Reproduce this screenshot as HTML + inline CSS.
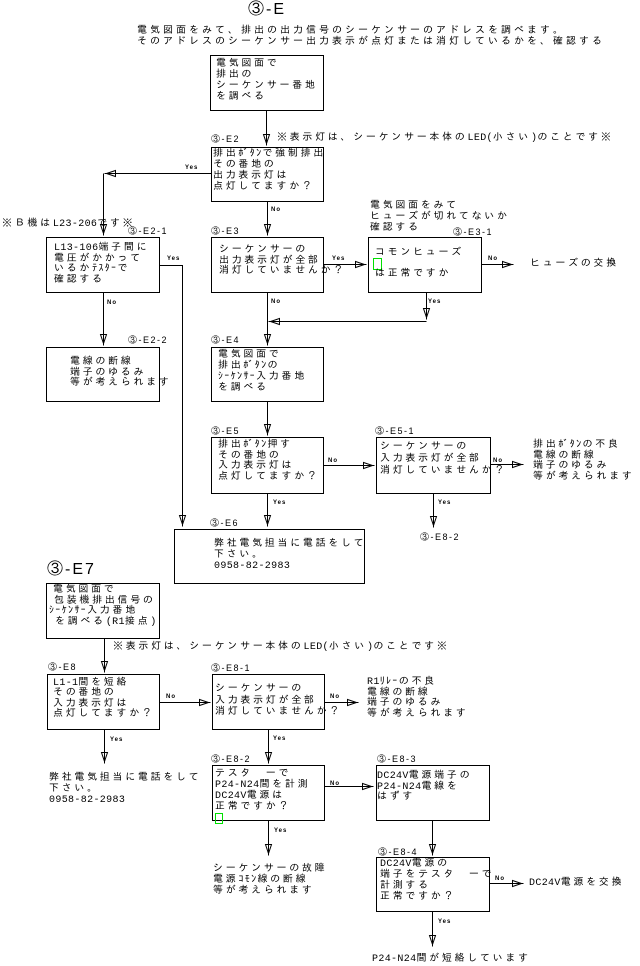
<!DOCTYPE html>
<html><head><meta charset="utf-8"><style>
html,body{margin:0;padding:0;background:#fff}
body{width:640px;height:966px;position:relative;overflow:hidden}
svg{position:absolute;left:0;top:0}
.t{position:absolute;font-family:"Liberation Mono","IPAGothic","Noto Sans CJK JP",monospace;font-size:10px;letter-spacing:2.7px;line-height:11px;white-space:pre;color:#000}
.t .a{letter-spacing:0.35px}
.t .k{letter-spacing:1.35px}
.l{position:absolute;font-family:"Liberation Sans","IPAGothic","Noto Sans CJK JP",sans-serif;font-size:9px;letter-spacing:1.5px;line-height:10px;white-space:pre;color:#000}
.y{position:absolute;font-family:"Liberation Sans",sans-serif;font-weight:bold;font-size:6px;letter-spacing:1px;line-height:7px;white-space:pre;color:#000}
.big{position:absolute;font-family:"Liberation Sans","IPAGothic","Noto Sans CJK JP",sans-serif;font-size:16px;letter-spacing:2px;line-height:17px;white-space:pre;color:#000}
</style></head><body>
<svg width="640" height="966" viewBox="0 0 640 966">
<g transform="translate(.5,.5)" stroke="#000" stroke-width="1" fill="none" shape-rendering="crispEdges">
<!-- boxes -->
<rect x="210" y="55" width="113" height="55"/>
<rect x="211" y="147" width="112" height="54"/>
<rect x="46" y="237" width="113" height="55"/>
<rect x="211" y="237" width="112" height="55"/>
<rect x="368" y="237" width="113" height="55"/>
<rect x="46" y="347" width="113" height="54"/>
<rect x="211" y="347" width="112" height="54"/>
<rect x="211" y="437" width="112" height="56"/>
<rect x="376" y="437" width="114" height="56"/>
<rect x="174" y="529" width="190" height="54"/>
<rect x="46" y="583" width="113" height="55"/>
<rect x="47" y="674" width="112" height="55"/>
<rect x="212" y="674" width="112" height="55"/>
<rect x="212" y="765" width="112" height="55"/>
<rect x="376" y="765" width="113" height="55"/>
<rect x="376" y="857" width="113" height="54"/>
<!-- connectors -->
<path d="M266 110V145"/>
<path d="M211 173H104M103 173V235"/>
<path d="M267 201V235"/>
<path d="M426 292V319"/>
<path d="M426 321H268"/>
<path d="M267 292V345"/>
<path d="M159 265H182V526"/>
<path d="M103 292V345"/>
<path d="M267 401V435"/>
<path d="M433 493V527"/>
<path d="M267 493V526"/>
<path d="M104 638V672"/>
<path d="M104 729V763"/>
<path d="M268 729V763"/>
<path d="M268 820V855"/>
<path d="M432 820V855"/>
<path d="M432 911V946"/>
<path d="M323 264H366"/>
<path d="M481 264H513"/>
<path d="M323 465H374"/>
<path d="M490 464H523"/>
<path d="M159 702H210"/>
<path d="M324 702H358"/>
<path d="M324 786H373"/>
<path d="M489 883H523"/>
<!-- down arrows -->
<g shape-rendering="auto">
<polygon points="263,134 269,134 266,143"/>
<polygon points="100,224 106,224 103,233"/>
<polygon points="264,224 270,224 267,233"/>
<polygon points="423,308 429,308 426,317"/>
<polygon points="264,334 270,334 267,343"/>
<polygon points="179,515 185,515 182,524"/>
<polygon points="100,334 106,334 103,343"/>
<polygon points="264,424 270,424 267,433"/>
<polygon points="430,516 436,516 433,525"/>
<polygon points="264,515 270,515 267,524"/>
<polygon points="101,661 107,661 104,670"/>
<polygon points="101,752 107,752 104,761"/>
<polygon points="265,752 271,752 268,761"/>
<polygon points="265,844 271,844 268,853"/>
<polygon points="429,844 435,844 432,853"/>
<polygon points="429,935 435,935 432,944"/>
<!-- right arrows -->
<polygon points="355,261 355,267 364,264"/>
<polygon points="502,261 502,267 511,264"/>
<polygon points="363,462 363,468 372,465"/>
<polygon points="512,461 512,467 521,464"/>
<polygon points="199,699 199,705 208,702"/>
<polygon points="347,699 347,705 356,702"/>
<polygon points="362,783 362,789 371,786"/>
<polygon points="512,880 512,886 521,883"/>
<!-- left arrows -->
<polygon points="115,170 115,176 106,173"/>
<polygon points="279,318 279,324 270,321"/>
</g>
<!-- green markers -->
<rect x="373" y="258" width="8" height="11" stroke="#00e000"/>
<rect x="215" y="813" width="7" height="10" stroke="#00e000"/>
</g>
</svg>

<div class="big" style="left:248px;top:1px">③-E</div>
<div class="t" style="left:137px;top:26px;letter-spacing:3px">電気図面をみて、排出の出力信号のシーケンサーのアドレスを調べます。
そのアドレスのシーケンサー出力表示が点灯または消灯しているかを、確認する</div>

<div class="t" style="left:216px;top:59px">電気図面で
排出の
シーケンサー番地
を調べる</div>

<div class="l" style="left:211px;top:134px">③-E2</div>
<div class="t" style="left:277px;top:133px">※表示灯は、シーケンサー本体の<span class="a">LED(</span>小さい<span class="a">)</span>のことです※</div>
<div class="t" style="left:213px;top:149px">排出<span class="k">ﾎﾞﾀﾝ</span>で強制排出
その番地の
出力表示灯は
点灯してますか？</div>
<div class="y" style="left:185px;top:165px">Yes</div>
<div class="y" style="left:271px;top:207px">No</div>

<div class="t" style="left:2px;top:219px">※Ｂ機は<span class="a">L23-206</span>です※</div>
<div class="l" style="left:128px;top:226px">③-E2-1</div>
<div class="t" style="left:54px;top:244px;line-height:10.7px"><span class="a">L13-106</span>端子間に
電圧がかかって
いるか<span class="k">ﾃｽﾀｰ</span>で
確認する</div>
<div class="y" style="left:167px;top:256px">Yes</div>
<div class="y" style="left:107px;top:300px">No</div>

<div class="l" style="left:211px;top:226px">③-E3</div>
<div class="t" style="left:219px;top:246px;line-height:10.5px">シーケンサーの
出力表示灯が全部
消灯していませんか？</div>
<div class="y" style="left:332px;top:256px">Yes</div>
<div class="y" style="left:271px;top:299px">No</div>

<div class="t" style="left:370px;top:201px">電気図面をみて
ヒューズが切れてないか
確認する</div>
<div class="l" style="left:453px;top:227px">③-E3-1</div>
<div class="t" style="left:375px;top:248px">コモンヒューズ</div>
<div class="t" style="left:375px;top:269px">は正常ですか</div>
<div class="y" style="left:488px;top:256px">No</div>
<div class="t" style="left:530px;top:259px">ヒューズの交換</div>
<div class="y" style="left:428px;top:299px">Yes</div>

<div class="l" style="left:128px;top:335px">③-E2-2</div>
<div class="t" style="left:70px;top:358px;line-height:10.5px">電線の断線
端子のゆるみ
等が考えられます</div>

<div class="l" style="left:211px;top:335px">③-E4</div>
<div class="t" style="left:218px;top:350px">電気図面で
排出<span class="k">ﾎﾞﾀﾝ</span>の
<span class="k">ｼｰｹﾝｻｰ</span>入力番地
を調べる</div>

<div class="l" style="left:211px;top:426px">③-E5</div>
<div class="t" style="left:218px;top:441px;line-height:10.7px">排出<span class="k">ﾎﾞﾀﾝ</span>押す
その番地の
入力表示灯は
点灯してますか？</div>
<div class="y" style="left:328px;top:458px">No</div>

<div class="l" style="left:375px;top:426px">③-E5-1</div>
<div class="t" style="left:380px;top:442px;line-height:12px">シーケンサーの
入力表示灯が全部
消灯していませんか？</div>
<div class="y" style="left:493px;top:458px">No</div>
<div class="t" style="left:533px;top:441px;line-height:10.7px">排出<span class="k">ﾎﾞﾀﾝ</span>の不良
電線の断線
端子のゆるみ
等が考えられます</div>
<div class="y" style="left:438px;top:500px">Yes</div>
<div class="y" style="left:273px;top:500px">Yes</div>
<div class="l" style="left:420px;top:532px">③-E8-2</div>

<div class="l" style="left:210px;top:518px">③-E6</div>
<div class="t" style="left:214px;top:539px">弊社電気担当に電話をして
下さい。
<span class="a">0958-82-2983</span></div>

<div class="big" style="left:47px;top:561px">③-E7</div>
<div class="t" style="left:53px;top:585px">電気図面で</div>
<div class="t" style="left:54px;top:596px">包装機排出信号の</div>
<div class="t" style="left:49px;top:606px"><span class="k">ｼｰｹﾝｻｰ</span>入力番地</div>
<div class="t" style="left:55px;top:617px">を調べる<span class="a">(R1</span>接点<span class="a">)</span></div>
<div class="t" style="left:113px;top:642px">※表示灯は、シーケンサー本体の<span class="a">LED(</span>小さい<span class="a">)</span>のことです※</div>

<div class="l" style="left:48px;top:662px">③-E8</div>
<div class="t" style="left:53px;top:679px;line-height:10.4px"><span class="a">L1-1</span>間を短絡
その番地の
入力表示灯は
点灯してますか？</div>
<div class="y" style="left:166px;top:694px">No</div>
<div class="y" style="left:110px;top:737px">Yes</div>
<div class="t" style="left:49px;top:773px">弊社電気担当に電話をして
下さい。
<span class="a">0958-82-2983</span></div>

<div class="l" style="left:211px;top:663px">③-E8-1</div>
<div class="t" style="left:215px;top:684px;line-height:11.5px">シーケンサーの
入力表示灯が全部
消灯していませんか？</div>
<div class="y" style="left:330px;top:694px">No</div>
<div class="t" style="left:367px;top:678px;line-height:10.7px"><span class="a">R1</span><span class="k">ﾘﾚｰ</span>の不良
電線の断線
端子のゆるみ
等が考えられます</div>
<div class="y" style="left:273px;top:736px">Yes</div>

<div class="l" style="left:211px;top:754px">③-E8-2</div>
<div class="t" style="left:215px;top:769px">テスタ　ーで
<span class="a">P24-N24</span>間を計測
<span class="a">DC24V</span>電源は
正常ですか？</div>
<div class="y" style="left:330px;top:781px">No</div>
<div class="y" style="left:274px;top:828px">Yes</div>
<div class="t" style="left:213px;top:864px">シーケンサーの故障
電源<span class="k">ｺﾓﾝ</span>線の断線
等が考えられます</div>

<div class="l" style="left:377px;top:754px">③-E8-3</div>
<div class="t" style="left:377px;top:772px;line-height:10.5px"><span class="a">DC24V</span>電源端子の
<span class="a">P24-N24</span>電線を
はずす</div>

<div class="l" style="left:378px;top:847px">③-E8-4</div>
<div class="t" style="left:380px;top:859px"><span class="a">DC24V</span>電源の
端子をテスタ　ーで
計測する
正常ですか？</div>
<div class="y" style="left:495px;top:876px">No</div>
<div class="t" style="left:529px;top:878px"><span class="a">DC24V</span>電源を交換</div>
<div class="y" style="left:438px;top:919px">Yes</div>
<div class="t" style="left:372px;top:954px"><span class="a">P24-N24</span>間が短絡しています</div>
</body></html>
